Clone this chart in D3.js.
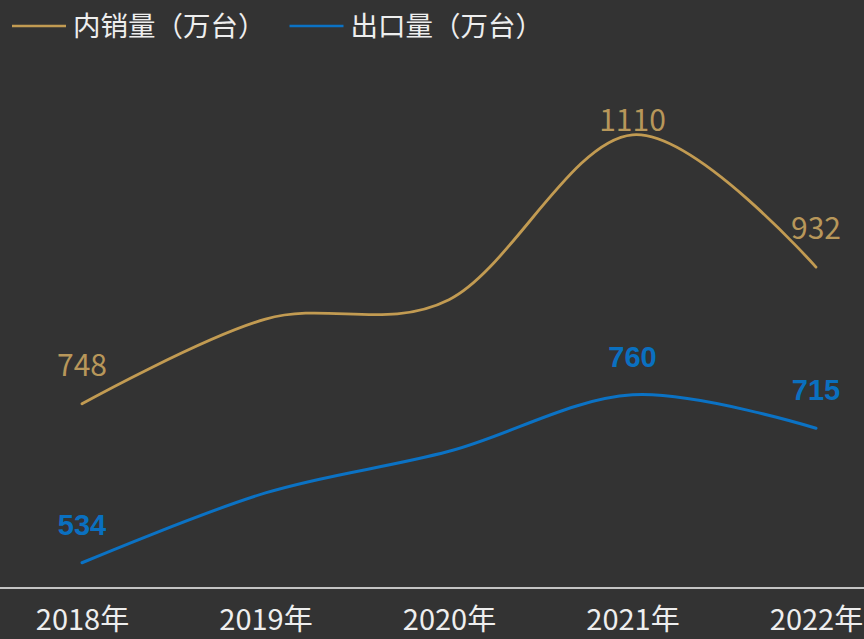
<!DOCTYPE html>
<html>
<head>
<meta charset="utf-8">
<script src="https://cdn.jsdelivr.net/npm/d3@7"></script>
<style>
  html, body { margin: 0; padding: 0; background: #333333; }
  svg { display: block; }
</style>
</head>
<body>
<div id="chart"></div>
<script>
// data
const years = ["2018年", "2019年", "2020年", "2021年", "2022年"];
const seriesNames = ["内销量（万台）", "出口量（万台）"];
const domesticSales = [748, 862, 888, 1110, 932];
const exportSales = [534, 628, 684, 760, 715];
const labeledYears = ["2018年", "2021年", "2022年"];

const width = 864;
const height = 639;
const margin = { left: 82, right: 48, top: 68, bottom: 51 };

const colors = {
  bg: "#333333",
  gold: "#C29B52",
  goldText: "#B8975A",
  blue: "#0B72C4",
  blueText: "#0A70C0",
  axis: "#c4c4c4",
  text: "#eeeeee",
};

const svg = d3
  .select("#chart")
  .append("svg")
  .attr("width", width)
  .attr("height", height);

svg.append("rect").attr("width", width).attr("height", height).attr("fill", colors.bg);

const x = d3
  .scalePoint()
  .domain(years)
  .range([margin.left, width - margin.right]);

const y = d3
  .scaleLinear()
  .domain([500, 1200])
  .range([height - margin.bottom, margin.top]);

// x axis
const xAxis = svg
  .append("g")
  .attr("transform", `translate(0,${height - margin.bottom})`)
  .call(d3.axisBottom(x).tickSize(0).tickPadding(0));

xAxis.select(".domain").remove();
svg
  .append("line")
  .attr("x1", 0)
  .attr("x2", width)
  .attr("y1", height - margin.bottom)
  .attr("y2", height - margin.bottom)
  .attr("stroke", colors.axis)
  .attr("stroke-width", 2);

xAxis
  .selectAll("text")
  .attr("y", 42)
  .attr("dy", 0)
  .attr("fill", colors.text)
  .style("font-family", "'Liberation Sans Narrow', 'Noto Sans CJK SC', sans-serif")
  .style("font-size", "29px");

const series = [
  { name: seriesNames[0], values: domesticSales, color: colors.gold, textColor: colors.goldText, width: 2.8, weight: "normal", font: "'Liberation Sans Narrow', 'Noto Sans CJK SC', sans-serif", size: "30px" },
  { name: seriesNames[1], values: exportSales, color: colors.blue, textColor: colors.blueText, width: 3, weight: "bold", font: "'Liberation Sans', Arial, sans-serif", size: "29px" },
];

const line = d3
  .line()
  .x((d) => x(d.year))
  .y((d) => y(d.value))
  .curve(d3.curveCardinal.tension(0));

series.forEach((s) => {
  const pts = years.map((year, i) => ({ year, value: s.values[i] }));

  svg
    .append("path")
    .datum(pts)
    .attr("d", line)
    .attr("fill", "none")
    .attr("stroke", s.color)
    .attr("stroke-width", s.width)
    .attr("stroke-linecap", "round");

  svg
    .append("g")
    .selectAll("text")
    .data(pts.filter((d) => labeledYears.includes(d.year)))
    .enter()
    .append("text")
    .attr("x", (d) => x(d.year))
    // the peak label of the gold line sits closer to its point
    .attr("y", (d) => y(d.value) - (d.value === d3.max(domesticSales) && s === series[0] ? 4 : 28))
    .attr("text-anchor", "middle")
    .attr("fill", s.textColor)
    .style("font-family", s.font)
    .style("font-weight", s.weight)
    .style("font-size", s.size)
    .text((d) => d.value);
});

// legend
const legend = svg.append("g");
let lx = 12;
series.forEach((s) => {
  legend
    .append("line")
    .attr("x1", lx)
    .attr("x2", lx + 54)
    .attr("y1", 26)
    .attr("y2", 26)
    .attr("stroke", s.color)
    .attr("stroke-width", 2.5);
  const t = legend
    .append("text")
    .attr("x", lx + 61)
    .attr("y", 36)
    .attr("fill", colors.text)
    .style("font-family", "'Noto Sans CJK SC', sans-serif")
    .style("font-size", "27.5px")
    .text(s.name);
  lx = lx + 61 + t.node().getComputedTextLength() + 24;
});
</script>
</body>
</html>
